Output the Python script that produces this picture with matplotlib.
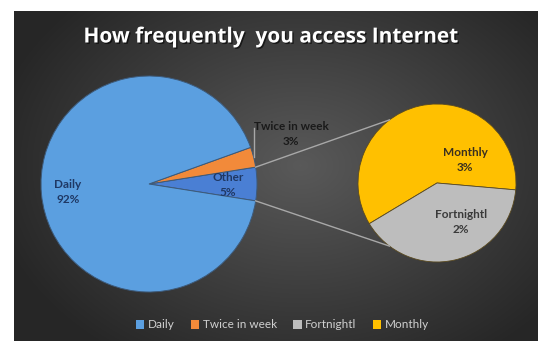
import numpy as np
import matplotlib.pyplot as plt
import matplotlib.patheffects as pe
from matplotlib.patches import Patch

# Veriler
main_labels = ['Daily', 'Twice in week', 'Other']
main_values = [92, 3, 5]
sub_labels = ['Monthly', 'Fortnightl']
sub_values = [3, 2]
legend_labels = ['Daily', 'Twice in week', 'Fortnightl', 'Monthly']

colors = {'Daily': '#5b9fe0', 'Twice in week': '#f28a3a', 'Other': '#4a7fd4',
          'Monthly': '#ffc000', 'Fortnightl': '#bdbdbd'}

W, H = 538, 341
fig = plt.figure(figsize=(W / 100, H / 100), dpi=100)
fig.patch.set_facecolor('white')
ax = fig.add_axes([0, 0, 1, 1])
ax.set_xlim(0, W)
ax.set_ylim(0, H)
ax.set_aspect('equal')
ax.axis('off')

# Arka plan: radyal gradyan
px0, px1, py0, py1 = 14, W, 0, H - 11
yy, xx = np.mgrid[py0:py1, px0:px1]
d = np.sqrt(((xx - 300) / 300) ** 2 + ((yy - 175) / 220) ** 2)
shade = np.clip(0.35 - 0.19 * d, 0.15, 0.35)
bg = np.dstack([shade, shade, shade])
ax.imshow(bg, extent=(px0, px1, py0, py1), origin='lower', zorder=0)

# Ana pasta
c1, r1 = (149, 157), 108
order = [2, 1, 0]  # Other, Twice in week, Daily (saat yönünün tersine)
w1, _ = ax.pie([main_values[i] for i in order], center=c1, radius=r1,
               colors=[colors[main_labels[i]] for i in order], startangle=-9,
               wedgeprops=dict(edgecolor='#3d5a7a', linewidth=0.7), frame=True)

# İkinci pasta
c2, r2 = (437, 158), 79
w2, _ = ax.pie(sub_values, center=c2, radius=r2,
               colors=[colors[s] for s in sub_labels], startangle=-5,
               wedgeprops=dict(edgecolor='#5a4a20', linewidth=0.6), frame=True)
ax.set_xlim(0, W)
ax.set_ylim(0, H)
ax.axis('off')

# Bağlantı çizgileri
other = w1[0]
for a_main, a_sub in [(other.theta2, 127), (other.theta1, 233)]:
    p = (c1[0] + r1 * np.cos(np.radians(a_main)), c1[1] + r1 * np.sin(np.radians(a_main)))
    q = (c2[0] + r2 * np.cos(np.radians(a_sub)), c2[1] + r2 * np.sin(np.radians(a_sub)))
    ax.plot([p[0], q[0]], [p[1], q[1]], color='#a8a8a8', lw=1, zorder=1)

# "Twice in week" kılavuz çizgisi
tw = w1[1]
tm = np.radians((tw.theta1 + tw.theta2) / 2)
ax.plot([c1[0] + r1 * np.cos(tm), c1[0] + r1 * np.cos(tm)],
        [c1[1] + r1 * np.sin(tm), 213], color='#a8a8a8', lw=1, zorder=3)

# Etiketler
lab = dict(fontsize=8.5, fontweight='bold', ha='center', va='center',
           family='Lato', linespacing=1.35)
ax.text(68, 149, 'Daily\n92%', color='#1f3864', **lab)
ax.text(228, 156, 'Other\n5%', color='#1f3864', **lab)
ax.text(291, 207, 'Twice in week\n3%', color='#1a1a1a', **lab)
ax.text(465, 181, 'Monthly\n3%', color='#3a3020', **lab)
ax.text(461, 119, 'Fortnightl\n2%', color='#3a3a3a', **lab)

# Başlık
ax.text(271, 304, 'How frequently  you access Internet', color='white',
        fontsize=15, fontweight='bold', family='Open Sans', ha='center', va='center',
        path_effects=[pe.withSimplePatchShadow(offset=(1, -1), shadow_rgbFace='black', alpha=0.6)])

# Lejant
handles = [Patch(facecolor=colors[l], edgecolor='none') for l in legend_labels]
leg = ax.legend(handles, legend_labels, loc='center', bbox_to_anchor=(0.525, 0.047),
                ncol=4, frameon=False, handlelength=0.7, handleheight=0.9,
                handletextpad=0.3, columnspacing=1.4, prop={'family': 'Lato', 'size': 8.5})
for t in leg.get_texts():
    t.set_color('#d0d0d0')

fig.savefig('out.png', dpi=100, facecolor='white')
